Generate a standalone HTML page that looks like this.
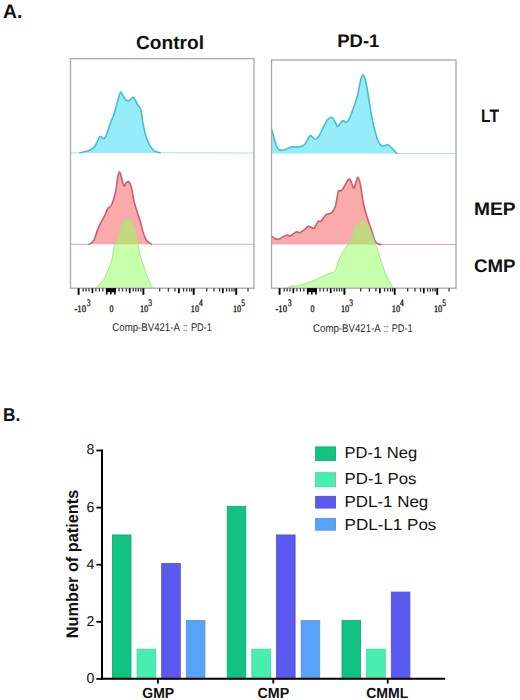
<!DOCTYPE html>
<html><head><meta charset="utf-8"><style>
html,body{margin:0;padding:0;background:#fff;width:520px;height:700px;overflow:hidden;}
svg{display:block;font-family:"Liberation Sans",sans-serif;text-rendering:geometricPrecision;}
</style></head><body><svg width="520" height="700" viewBox="0 0 520 700"><text x="3.0" y="18.2" font-family="Liberation Sans, sans-serif" font-weight="bold" fill="#111" font-size="19.5" textLength="19.3" lengthAdjust="spacingAndGlyphs">A.</text><text x="136.0" y="49.4" font-family="Liberation Sans, sans-serif" font-weight="bold" fill="#111" font-size="18.9" textLength="68" lengthAdjust="spacingAndGlyphs">Control</text><text x="337.2" y="46.7" font-family="Liberation Sans, sans-serif" font-weight="bold" fill="#111" font-size="18.3" textLength="42.2" lengthAdjust="spacingAndGlyphs">PD-1</text><text x="481.0" y="122" font-family="Liberation Sans, sans-serif" font-weight="bold" fill="#111" font-size="18" textLength="18" lengthAdjust="spacingAndGlyphs">LT</text><text x="474.0" y="214.5" font-family="Liberation Sans, sans-serif" font-weight="bold" fill="#111" font-size="18.2" textLength="41.6" lengthAdjust="spacingAndGlyphs">MEP</text><text x="474.0" y="271.9" font-family="Liberation Sans, sans-serif" font-weight="bold" fill="#111" font-size="18.2" textLength="41.5" lengthAdjust="spacingAndGlyphs">CMP</text><text x="3.0" y="420.8" font-family="Liberation Sans, sans-serif" font-weight="bold" fill="#111" font-size="18.5" textLength="17.2" lengthAdjust="spacingAndGlyphs">B.</text><path d="M70.50,153.00 L70.50,153.00 L80.00,152.80 C81.53,152.43 86.77,151.65 89.20,150.60 C91.63,149.55 92.80,148.85 94.60,146.50 C96.40,144.15 98.60,137.78 100.00,136.50 C101.40,135.22 102.00,138.92 103.00,138.80 C104.00,138.68 104.70,138.60 106.00,135.80 C107.30,133.00 109.50,125.47 110.80,122.00 C112.10,118.53 112.77,118.08 113.80,115.00 C114.83,111.92 115.92,107.22 117.00,103.50 C118.08,99.78 119.42,94.25 120.30,92.70 C121.18,91.15 121.45,93.05 122.30,94.20 C123.15,95.35 124.25,98.57 125.40,99.60 C126.55,100.63 127.93,100.78 129.20,100.40 C130.47,100.02 131.97,97.30 133.00,97.30 C134.03,97.30 134.62,99.12 135.40,100.40 C136.18,101.68 136.80,103.47 137.70,105.00 C138.60,106.53 139.92,106.52 140.80,109.60 C141.68,112.68 142.10,118.88 143.00,123.50 C143.90,128.12 145.03,133.58 146.20,137.30 C147.37,141.02 148.73,143.58 150.00,145.80 C151.27,148.02 152.13,149.43 153.80,150.60 C155.47,151.77 158.97,152.43 160.00,152.80 L254.00,153.00 L254.00,153.00 Z" fill="#96ecfa" fill-opacity="1.00" stroke="none"/><line x1="70.50" y1="153.00" x2="80.00" y2="152.80" stroke="#a6e4e8" stroke-width="1.10"/><line x1="160.00" y1="152.80" x2="254.00" y2="153.00" stroke="#a6e4e8" stroke-width="1.10"/><path d="M80.00,152.80 C81.53,152.43 86.77,151.65 89.20,150.60 C91.63,149.55 92.80,148.85 94.60,146.50 C96.40,144.15 98.60,137.78 100.00,136.50 C101.40,135.22 102.00,138.92 103.00,138.80 C104.00,138.68 104.70,138.60 106.00,135.80 C107.30,133.00 109.50,125.47 110.80,122.00 C112.10,118.53 112.77,118.08 113.80,115.00 C114.83,111.92 115.92,107.22 117.00,103.50 C118.08,99.78 119.42,94.25 120.30,92.70 C121.18,91.15 121.45,93.05 122.30,94.20 C123.15,95.35 124.25,98.57 125.40,99.60 C126.55,100.63 127.93,100.78 129.20,100.40 C130.47,100.02 131.97,97.30 133.00,97.30 C134.03,97.30 134.62,99.12 135.40,100.40 C136.18,101.68 136.80,103.47 137.70,105.00 C138.60,106.53 139.92,106.52 140.80,109.60 C141.68,112.68 142.10,118.88 143.00,123.50 C143.90,128.12 145.03,133.58 146.20,137.30 C147.37,141.02 148.73,143.58 150.00,145.80 C151.27,148.02 152.13,149.43 153.80,150.60 C155.47,151.77 158.97,152.43 160.00,152.80" fill="none" stroke="#45bfcc" stroke-width="1.60" stroke-linejoin="round" stroke-linecap="round"/><path d="M70.50,244.30 L70.50,244.30 L89.20,244.30 C89.97,243.65 92.38,242.85 93.80,240.40 C95.22,237.95 96.53,232.55 97.70,229.60 C98.87,226.65 99.65,225.00 100.80,222.70 C101.95,220.40 103.45,218.12 104.60,215.80 C105.75,213.48 106.55,210.60 107.70,208.80 C108.85,207.00 110.22,207.68 111.50,205.00 C112.78,202.32 114.37,197.32 115.40,192.70 C116.43,188.08 117.02,180.77 117.70,177.30 C118.38,173.83 118.92,172.03 119.50,171.90 C120.08,171.77 120.48,174.18 121.20,176.50 C121.92,178.82 122.97,184.77 123.80,185.80 C124.63,186.83 125.35,183.35 126.20,182.70 C127.05,182.05 128.02,181.02 128.90,181.90 C129.78,182.78 130.68,184.92 131.50,188.00 C132.32,191.08 132.90,196.53 133.80,200.40 C134.70,204.27 135.87,207.87 136.90,211.20 C137.93,214.53 138.95,216.85 140.00,220.40 C141.05,223.95 142.12,229.18 143.20,232.50 C144.28,235.82 145.12,238.33 146.50,240.30 C147.88,242.27 150.67,243.63 151.50,244.30 L254.00,244.30 L254.00,244.30 Z" fill="#faaaaa" fill-opacity="1.00" stroke="none"/><line x1="70.50" y1="244.30" x2="89.20" y2="244.30" stroke="#e8a4b0" stroke-width="1.10"/><line x1="151.50" y1="244.30" x2="254.00" y2="244.30" stroke="#e8a4b0" stroke-width="1.10"/><path d="M89.20,244.30 C89.97,243.65 92.38,242.85 93.80,240.40 C95.22,237.95 96.53,232.55 97.70,229.60 C98.87,226.65 99.65,225.00 100.80,222.70 C101.95,220.40 103.45,218.12 104.60,215.80 C105.75,213.48 106.55,210.60 107.70,208.80 C108.85,207.00 110.22,207.68 111.50,205.00 C112.78,202.32 114.37,197.32 115.40,192.70 C116.43,188.08 117.02,180.77 117.70,177.30 C118.38,173.83 118.92,172.03 119.50,171.90 C120.08,171.77 120.48,174.18 121.20,176.50 C121.92,178.82 122.97,184.77 123.80,185.80 C124.63,186.83 125.35,183.35 126.20,182.70 C127.05,182.05 128.02,181.02 128.90,181.90 C129.78,182.78 130.68,184.92 131.50,188.00 C132.32,191.08 132.90,196.53 133.80,200.40 C134.70,204.27 135.87,207.87 136.90,211.20 C137.93,214.53 138.95,216.85 140.00,220.40 C141.05,223.95 142.12,229.18 143.20,232.50 C144.28,235.82 145.12,238.33 146.50,240.30 C147.88,242.27 150.67,243.63 151.50,244.30" fill="none" stroke="#cc5f6e" stroke-width="1.60" stroke-linejoin="round" stroke-linecap="round"/><path d="M95.40,288.20 L95.40,288.20 C96.17,287.50 98.65,285.43 100.00,284.00 C101.35,282.57 102.17,281.87 103.50,279.60 C104.83,277.33 106.67,273.50 108.00,270.40 C109.33,267.30 110.53,264.47 111.50,261.00 C112.47,257.53 113.22,252.47 113.80,249.60 C114.38,246.73 114.22,245.73 115.00,243.80 C115.78,241.87 117.63,239.92 118.50,238.00 C119.37,236.08 119.68,234.38 120.20,232.30 C120.72,230.22 120.97,227.35 121.60,225.50 C122.23,223.65 123.08,222.22 124.00,221.20 C124.92,220.18 126.05,219.40 127.10,219.40 C128.15,219.40 129.32,220.35 130.30,221.20 C131.28,222.05 132.08,222.65 133.00,224.50 C133.92,226.35 134.97,229.08 135.80,232.30 C136.63,235.52 137.23,239.95 138.00,243.80 C138.77,247.65 139.43,251.53 140.40,255.40 C141.37,259.27 142.45,262.97 143.80,267.00 C145.15,271.03 147.13,276.35 148.50,279.60 C149.87,282.85 151.25,285.07 152.00,286.50 C152.75,287.93 152.83,287.92 153.00,288.20 L153.00,288.20 Z" fill="#91ff55" fill-opacity="0.50" stroke="none"/><path d="M95.40,288.20 C96.17,287.50 98.65,285.43 100.00,284.00 C101.35,282.57 102.17,281.87 103.50,279.60 C104.83,277.33 106.67,273.50 108.00,270.40 C109.33,267.30 110.53,264.47 111.50,261.00 C112.47,257.53 113.22,252.47 113.80,249.60 C114.38,246.73 114.22,245.73 115.00,243.80 C115.78,241.87 117.63,239.92 118.50,238.00 C119.37,236.08 119.68,234.38 120.20,232.30 C120.72,230.22 120.97,227.35 121.60,225.50 C122.23,223.65 123.08,222.22 124.00,221.20 C124.92,220.18 126.05,219.40 127.10,219.40 C128.15,219.40 129.32,220.35 130.30,221.20 C131.28,222.05 132.08,222.65 133.00,224.50 C133.92,226.35 134.97,229.08 135.80,232.30 C136.63,235.52 137.23,239.95 138.00,243.80 C138.77,247.65 139.43,251.53 140.40,255.40 C141.37,259.27 142.45,262.97 143.80,267.00 C145.15,271.03 147.13,276.35 148.50,279.60 C149.87,282.85 151.25,285.07 152.00,286.50 C152.75,287.93 152.83,287.92 153.00,288.20" fill="none" stroke="#9ee88a" stroke-width="1.00" stroke-linejoin="round" stroke-linecap="round"/><path d="M271.50,153.50 L271.50,129.20 C271.88,130.50 272.93,134.12 273.80,137.00 C274.67,139.88 275.73,144.33 276.70,146.50 C277.67,148.67 278.15,149.52 279.60,150.00 C281.05,150.48 283.47,149.90 285.40,149.40 C287.33,148.90 288.97,147.40 291.20,147.00 C293.43,146.60 296.57,147.40 298.80,147.00 C301.03,146.60 302.83,146.35 304.60,144.60 C306.37,142.85 308.28,137.93 309.40,136.50 C310.52,135.07 310.33,135.55 311.30,136.00 C312.27,136.45 313.92,139.20 315.20,139.20 C316.48,139.20 317.57,138.15 319.00,136.00 C320.43,133.85 322.35,129.03 323.80,126.30 C325.25,123.57 326.42,121.10 327.70,119.60 C328.98,118.10 330.38,117.13 331.50,117.30 C332.62,117.47 333.43,119.10 334.40,120.60 C335.37,122.10 336.33,125.82 337.30,126.30 C338.27,126.78 339.25,124.45 340.20,123.50 C341.15,122.55 342.03,120.77 343.00,120.60 C343.97,120.43 345.03,122.67 346.00,122.50 C346.97,122.33 347.68,121.68 348.80,119.60 C349.92,117.52 351.25,114.00 352.70,110.00 C354.15,106.00 356.22,100.40 357.50,95.60 C358.78,90.80 359.55,84.63 360.40,81.20 C361.25,77.77 361.78,75.28 362.60,75.00 C363.42,74.72 364.37,76.17 365.30,79.50 C366.23,82.83 367.22,89.28 368.20,95.00 C369.18,100.72 370.07,107.80 371.20,113.80 C372.33,119.80 373.73,126.18 375.00,131.00 C376.27,135.82 377.52,140.17 378.80,142.70 C380.08,145.23 381.25,145.88 382.70,146.20 C384.15,146.52 386.07,144.38 387.50,144.60 C388.93,144.82 389.72,146.02 391.30,147.50 C392.88,148.98 396.05,152.50 397.00,153.50 L456.00,153.50 L456.00,153.50 Z" fill="#96ecfa" fill-opacity="1.00" stroke="none"/><line x1="397.00" y1="153.50" x2="456.00" y2="153.50" stroke="#a6e4e8" stroke-width="1.10"/><path d="M271.50,129.20 C271.88,130.50 272.93,134.12 273.80,137.00 C274.67,139.88 275.73,144.33 276.70,146.50 C277.67,148.67 278.15,149.52 279.60,150.00 C281.05,150.48 283.47,149.90 285.40,149.40 C287.33,148.90 288.97,147.40 291.20,147.00 C293.43,146.60 296.57,147.40 298.80,147.00 C301.03,146.60 302.83,146.35 304.60,144.60 C306.37,142.85 308.28,137.93 309.40,136.50 C310.52,135.07 310.33,135.55 311.30,136.00 C312.27,136.45 313.92,139.20 315.20,139.20 C316.48,139.20 317.57,138.15 319.00,136.00 C320.43,133.85 322.35,129.03 323.80,126.30 C325.25,123.57 326.42,121.10 327.70,119.60 C328.98,118.10 330.38,117.13 331.50,117.30 C332.62,117.47 333.43,119.10 334.40,120.60 C335.37,122.10 336.33,125.82 337.30,126.30 C338.27,126.78 339.25,124.45 340.20,123.50 C341.15,122.55 342.03,120.77 343.00,120.60 C343.97,120.43 345.03,122.67 346.00,122.50 C346.97,122.33 347.68,121.68 348.80,119.60 C349.92,117.52 351.25,114.00 352.70,110.00 C354.15,106.00 356.22,100.40 357.50,95.60 C358.78,90.80 359.55,84.63 360.40,81.20 C361.25,77.77 361.78,75.28 362.60,75.00 C363.42,74.72 364.37,76.17 365.30,79.50 C366.23,82.83 367.22,89.28 368.20,95.00 C369.18,100.72 370.07,107.80 371.20,113.80 C372.33,119.80 373.73,126.18 375.00,131.00 C376.27,135.82 377.52,140.17 378.80,142.70 C380.08,145.23 381.25,145.88 382.70,146.20 C384.15,146.52 386.07,144.38 387.50,144.60 C388.93,144.82 389.72,146.02 391.30,147.50 C392.88,148.98 396.05,152.50 397.00,153.50" fill="none" stroke="#45bfcc" stroke-width="1.60" stroke-linejoin="round" stroke-linecap="round"/><path d="M271.50,244.50 L271.50,236.00 C272.05,236.42 273.60,237.97 274.80,238.50 C276.00,239.03 277.42,239.45 278.70,239.20 C279.98,238.95 281.07,237.70 282.50,237.00 C283.93,236.30 286.02,235.17 287.30,235.00 C288.58,234.83 288.75,236.50 290.20,236.00 C291.65,235.50 294.40,232.55 296.00,232.00 C297.60,231.45 298.52,233.00 299.80,232.70 C301.08,232.40 302.25,231.27 303.70,230.20 C305.15,229.13 307.23,226.78 308.50,226.30 C309.77,225.82 310.35,226.97 311.30,227.30 C312.25,227.63 313.08,229.27 314.20,228.30 C315.32,227.33 316.87,222.68 318.00,221.50 C319.13,220.32 319.70,222.32 321.00,221.20 C322.30,220.08 324.05,216.18 325.80,214.80 C327.55,213.42 329.90,214.33 331.50,212.90 C333.10,211.47 334.27,209.73 335.40,206.20 C336.53,202.67 337.33,194.27 338.30,191.70 C339.27,189.13 340.25,191.58 341.20,190.80 C342.15,190.02 342.73,188.93 344.00,187.00 C345.27,185.07 347.52,179.87 348.80,179.20 C350.08,178.53 350.90,181.45 351.70,183.00 C352.50,184.55 352.92,188.50 353.60,188.50 C354.28,188.50 355.07,184.88 355.80,183.00 C356.53,181.12 357.22,176.87 358.00,177.20 C358.78,177.53 359.58,180.53 360.50,185.00 C361.42,189.47 362.37,198.55 363.50,204.00 C364.63,209.45 366.02,213.50 367.30,217.70 C368.58,221.90 369.92,225.35 371.20,229.20 C372.48,233.05 373.88,238.38 375.00,240.80 C376.12,243.22 376.90,243.08 377.90,243.70 C378.90,244.32 380.48,244.37 381.00,244.50 L456.00,244.50 L456.00,244.50 Z" fill="#faaaaa" fill-opacity="1.00" stroke="none"/><line x1="381.00" y1="244.50" x2="456.00" y2="244.50" stroke="#e8a4b0" stroke-width="1.10"/><path d="M271.50,236.00 C272.05,236.42 273.60,237.97 274.80,238.50 C276.00,239.03 277.42,239.45 278.70,239.20 C279.98,238.95 281.07,237.70 282.50,237.00 C283.93,236.30 286.02,235.17 287.30,235.00 C288.58,234.83 288.75,236.50 290.20,236.00 C291.65,235.50 294.40,232.55 296.00,232.00 C297.60,231.45 298.52,233.00 299.80,232.70 C301.08,232.40 302.25,231.27 303.70,230.20 C305.15,229.13 307.23,226.78 308.50,226.30 C309.77,225.82 310.35,226.97 311.30,227.30 C312.25,227.63 313.08,229.27 314.20,228.30 C315.32,227.33 316.87,222.68 318.00,221.50 C319.13,220.32 319.70,222.32 321.00,221.20 C322.30,220.08 324.05,216.18 325.80,214.80 C327.55,213.42 329.90,214.33 331.50,212.90 C333.10,211.47 334.27,209.73 335.40,206.20 C336.53,202.67 337.33,194.27 338.30,191.70 C339.27,189.13 340.25,191.58 341.20,190.80 C342.15,190.02 342.73,188.93 344.00,187.00 C345.27,185.07 347.52,179.87 348.80,179.20 C350.08,178.53 350.90,181.45 351.70,183.00 C352.50,184.55 352.92,188.50 353.60,188.50 C354.28,188.50 355.07,184.88 355.80,183.00 C356.53,181.12 357.22,176.87 358.00,177.20 C358.78,177.53 359.58,180.53 360.50,185.00 C361.42,189.47 362.37,198.55 363.50,204.00 C364.63,209.45 366.02,213.50 367.30,217.70 C368.58,221.90 369.92,225.35 371.20,229.20 C372.48,233.05 373.88,238.38 375.00,240.80 C376.12,243.22 376.90,243.08 377.90,243.70 C378.90,244.32 380.48,244.37 381.00,244.50" fill="none" stroke="#cc5f6e" stroke-width="1.60" stroke-linejoin="round" stroke-linecap="round"/><path d="M286.50,288.20 L286.50,288.20 C286.92,288.00 288.03,287.40 289.00,287.00 C289.97,286.60 291.23,285.93 292.30,285.80 C293.37,285.67 293.87,286.40 295.40,286.20 C296.93,286.00 299.20,285.25 301.50,284.60 C303.80,283.95 306.62,283.20 309.20,282.30 C311.78,281.40 314.43,280.35 317.00,279.20 C319.57,278.05 322.30,276.43 324.60,275.40 C326.90,274.37 329.13,273.68 330.80,273.00 C332.47,272.32 333.57,272.47 334.60,271.30 C335.63,270.13 336.32,267.88 337.00,266.00 C337.68,264.12 337.95,261.90 338.70,260.00 C339.45,258.10 340.52,256.40 341.50,254.60 C342.48,252.80 343.57,250.87 344.60,249.20 C345.63,247.53 346.67,246.13 347.70,244.60 C348.73,243.07 349.78,242.10 350.80,240.00 C351.82,237.90 352.80,234.58 353.80,232.00 C354.80,229.42 355.85,226.13 356.80,224.50 C357.75,222.87 358.38,222.68 359.50,222.20 C360.62,221.72 362.33,221.53 363.50,221.60 C364.67,221.67 365.65,221.90 366.50,222.60 C367.35,223.30 367.93,224.40 368.60,225.80 C369.27,227.20 369.77,229.02 370.50,231.00 C371.23,232.98 371.92,234.78 373.00,237.70 C374.08,240.62 375.58,244.40 377.00,248.50 C378.42,252.60 380.00,257.95 381.50,262.30 C383.00,266.65 384.45,271.02 386.00,274.60 C387.55,278.18 389.63,281.53 390.80,283.80 C391.97,286.07 392.63,287.47 393.00,288.20 L393.00,288.20 Z" fill="#91ff55" fill-opacity="0.50" stroke="none"/><path d="M286.50,288.20 C286.92,288.00 288.03,287.40 289.00,287.00 C289.97,286.60 291.23,285.93 292.30,285.80 C293.37,285.67 293.87,286.40 295.40,286.20 C296.93,286.00 299.20,285.25 301.50,284.60 C303.80,283.95 306.62,283.20 309.20,282.30 C311.78,281.40 314.43,280.35 317.00,279.20 C319.57,278.05 322.30,276.43 324.60,275.40 C326.90,274.37 329.13,273.68 330.80,273.00 C332.47,272.32 333.57,272.47 334.60,271.30 C335.63,270.13 336.32,267.88 337.00,266.00 C337.68,264.12 337.95,261.90 338.70,260.00 C339.45,258.10 340.52,256.40 341.50,254.60 C342.48,252.80 343.57,250.87 344.60,249.20 C345.63,247.53 346.67,246.13 347.70,244.60 C348.73,243.07 349.78,242.10 350.80,240.00 C351.82,237.90 352.80,234.58 353.80,232.00 C354.80,229.42 355.85,226.13 356.80,224.50 C357.75,222.87 358.38,222.68 359.50,222.20 C360.62,221.72 362.33,221.53 363.50,221.60 C364.67,221.67 365.65,221.90 366.50,222.60 C367.35,223.30 367.93,224.40 368.60,225.80 C369.27,227.20 369.77,229.02 370.50,231.00 C371.23,232.98 371.92,234.78 373.00,237.70 C374.08,240.62 375.58,244.40 377.00,248.50 C378.42,252.60 380.00,257.95 381.50,262.30 C383.00,266.65 384.45,271.02 386.00,274.60 C387.55,278.18 389.63,281.53 390.80,283.80 C391.97,286.07 392.63,287.47 393.00,288.20" fill="none" stroke="#9ee88a" stroke-width="1.00" stroke-linejoin="round" stroke-linecap="round"/><rect x="70.50" y="58.60" width="183.50" height="229.60" fill="none" stroke="#a8a8a8" stroke-width="1.3"/><rect x="271.50" y="60.00" width="184.50" height="228.20" fill="none" stroke="#a8a8a8" stroke-width="1.3"/><rect x="106.00" y="288.20" width="10" height="4" fill="#000"/><line x1="78.60" y1="288.20" x2="78.60" y2="294.80" stroke="#000" stroke-width="1.90"/><line x1="143.40" y1="288.20" x2="143.40" y2="294.80" stroke="#000" stroke-width="1.90"/><line x1="193.70" y1="288.20" x2="193.70" y2="294.80" stroke="#000" stroke-width="1.90"/><line x1="236.20" y1="288.20" x2="236.20" y2="294.80" stroke="#000" stroke-width="1.90"/><line x1="92.40" y1="288.20" x2="92.40" y2="293.20" stroke="#000" stroke-width="1.70"/><line x1="129.70" y1="288.20" x2="129.70" y2="293.20" stroke="#000" stroke-width="1.70"/><line x1="178.90" y1="288.20" x2="178.90" y2="293.20" stroke="#000" stroke-width="1.70"/><line x1="222.80" y1="288.20" x2="222.80" y2="293.20" stroke="#000" stroke-width="1.70"/><line x1="83.20" y1="288.20" x2="83.20" y2="291.60" stroke="#333" stroke-width="1.30"/><line x1="86.10" y1="288.20" x2="86.10" y2="291.60" stroke="#333" stroke-width="1.30"/><line x1="89.00" y1="288.20" x2="89.00" y2="291.60" stroke="#333" stroke-width="1.30"/><line x1="95.90" y1="288.20" x2="95.90" y2="291.60" stroke="#333" stroke-width="1.30"/><line x1="99.40" y1="288.20" x2="99.40" y2="291.60" stroke="#333" stroke-width="1.30"/><line x1="102.80" y1="288.20" x2="102.80" y2="291.60" stroke="#333" stroke-width="1.30"/><line x1="119.00" y1="288.20" x2="119.00" y2="291.60" stroke="#333" stroke-width="1.30"/><line x1="122.50" y1="288.20" x2="122.50" y2="291.60" stroke="#333" stroke-width="1.30"/><line x1="126.30" y1="288.20" x2="126.30" y2="291.60" stroke="#333" stroke-width="1.30"/><line x1="133.20" y1="288.20" x2="133.20" y2="291.60" stroke="#333" stroke-width="1.30"/><line x1="135.80" y1="288.20" x2="135.80" y2="291.60" stroke="#333" stroke-width="1.30"/><line x1="138.40" y1="288.20" x2="138.40" y2="291.60" stroke="#333" stroke-width="1.30"/><line x1="140.80" y1="288.20" x2="140.80" y2="291.60" stroke="#333" stroke-width="1.30"/><line x1="159.70" y1="288.20" x2="159.70" y2="291.60" stroke="#333" stroke-width="1.30"/><line x1="168.40" y1="288.20" x2="168.40" y2="291.60" stroke="#333" stroke-width="1.30"/><line x1="174.90" y1="288.20" x2="174.90" y2="291.60" stroke="#333" stroke-width="1.30"/><line x1="183.60" y1="288.20" x2="183.60" y2="291.60" stroke="#333" stroke-width="1.30"/><line x1="186.70" y1="288.20" x2="186.70" y2="291.60" stroke="#333" stroke-width="1.30"/><line x1="189.60" y1="288.20" x2="189.60" y2="291.60" stroke="#333" stroke-width="1.30"/><line x1="191.70" y1="288.20" x2="191.70" y2="291.60" stroke="#333" stroke-width="1.30"/><line x1="206.70" y1="288.20" x2="206.70" y2="291.60" stroke="#333" stroke-width="1.30"/><line x1="214.00" y1="288.20" x2="214.00" y2="291.60" stroke="#333" stroke-width="1.30"/><line x1="219.60" y1="288.20" x2="219.60" y2="291.60" stroke="#333" stroke-width="1.30"/><line x1="226.60" y1="288.20" x2="226.60" y2="291.60" stroke="#333" stroke-width="1.30"/><line x1="229.40" y1="288.20" x2="229.40" y2="291.60" stroke="#333" stroke-width="1.30"/><line x1="231.90" y1="288.20" x2="231.90" y2="291.60" stroke="#333" stroke-width="1.30"/><line x1="234.10" y1="288.20" x2="234.10" y2="291.60" stroke="#333" stroke-width="1.30"/><line x1="248.00" y1="288.20" x2="248.00" y2="291.60" stroke="#333" stroke-width="1.30"/><line x1="106.70" y1="288.20" x2="106.70" y2="294.50" stroke="#000" stroke-width="1.60"/><line x1="110.80" y1="288.20" x2="110.80" y2="294.50" stroke="#000" stroke-width="1.60"/><line x1="114.90" y1="288.20" x2="114.90" y2="294.50" stroke="#000" stroke-width="1.60"/><rect x="307.00" y="288.20" width="10" height="4" fill="#000"/><line x1="279.60" y1="288.20" x2="279.60" y2="294.80" stroke="#000" stroke-width="1.90"/><line x1="344.40" y1="288.20" x2="344.40" y2="294.80" stroke="#000" stroke-width="1.90"/><line x1="394.70" y1="288.20" x2="394.70" y2="294.80" stroke="#000" stroke-width="1.90"/><line x1="437.20" y1="288.20" x2="437.20" y2="294.80" stroke="#000" stroke-width="1.90"/><line x1="293.40" y1="288.20" x2="293.40" y2="293.20" stroke="#000" stroke-width="1.70"/><line x1="330.70" y1="288.20" x2="330.70" y2="293.20" stroke="#000" stroke-width="1.70"/><line x1="379.90" y1="288.20" x2="379.90" y2="293.20" stroke="#000" stroke-width="1.70"/><line x1="423.80" y1="288.20" x2="423.80" y2="293.20" stroke="#000" stroke-width="1.70"/><line x1="284.20" y1="288.20" x2="284.20" y2="291.60" stroke="#333" stroke-width="1.30"/><line x1="287.10" y1="288.20" x2="287.10" y2="291.60" stroke="#333" stroke-width="1.30"/><line x1="290.00" y1="288.20" x2="290.00" y2="291.60" stroke="#333" stroke-width="1.30"/><line x1="296.90" y1="288.20" x2="296.90" y2="291.60" stroke="#333" stroke-width="1.30"/><line x1="300.40" y1="288.20" x2="300.40" y2="291.60" stroke="#333" stroke-width="1.30"/><line x1="303.80" y1="288.20" x2="303.80" y2="291.60" stroke="#333" stroke-width="1.30"/><line x1="320.00" y1="288.20" x2="320.00" y2="291.60" stroke="#333" stroke-width="1.30"/><line x1="323.50" y1="288.20" x2="323.50" y2="291.60" stroke="#333" stroke-width="1.30"/><line x1="327.30" y1="288.20" x2="327.30" y2="291.60" stroke="#333" stroke-width="1.30"/><line x1="334.20" y1="288.20" x2="334.20" y2="291.60" stroke="#333" stroke-width="1.30"/><line x1="336.80" y1="288.20" x2="336.80" y2="291.60" stroke="#333" stroke-width="1.30"/><line x1="339.40" y1="288.20" x2="339.40" y2="291.60" stroke="#333" stroke-width="1.30"/><line x1="341.80" y1="288.20" x2="341.80" y2="291.60" stroke="#333" stroke-width="1.30"/><line x1="360.70" y1="288.20" x2="360.70" y2="291.60" stroke="#333" stroke-width="1.30"/><line x1="369.40" y1="288.20" x2="369.40" y2="291.60" stroke="#333" stroke-width="1.30"/><line x1="375.90" y1="288.20" x2="375.90" y2="291.60" stroke="#333" stroke-width="1.30"/><line x1="384.60" y1="288.20" x2="384.60" y2="291.60" stroke="#333" stroke-width="1.30"/><line x1="387.70" y1="288.20" x2="387.70" y2="291.60" stroke="#333" stroke-width="1.30"/><line x1="390.60" y1="288.20" x2="390.60" y2="291.60" stroke="#333" stroke-width="1.30"/><line x1="392.70" y1="288.20" x2="392.70" y2="291.60" stroke="#333" stroke-width="1.30"/><line x1="407.70" y1="288.20" x2="407.70" y2="291.60" stroke="#333" stroke-width="1.30"/><line x1="415.00" y1="288.20" x2="415.00" y2="291.60" stroke="#333" stroke-width="1.30"/><line x1="420.60" y1="288.20" x2="420.60" y2="291.60" stroke="#333" stroke-width="1.30"/><line x1="427.60" y1="288.20" x2="427.60" y2="291.60" stroke="#333" stroke-width="1.30"/><line x1="430.40" y1="288.20" x2="430.40" y2="291.60" stroke="#333" stroke-width="1.30"/><line x1="432.90" y1="288.20" x2="432.90" y2="291.60" stroke="#333" stroke-width="1.30"/><line x1="435.10" y1="288.20" x2="435.10" y2="291.60" stroke="#333" stroke-width="1.30"/><line x1="449.00" y1="288.20" x2="449.00" y2="291.60" stroke="#333" stroke-width="1.30"/><line x1="307.70" y1="288.20" x2="307.70" y2="294.50" stroke="#000" stroke-width="1.60"/><line x1="311.80" y1="288.20" x2="311.80" y2="294.50" stroke="#000" stroke-width="1.60"/><line x1="315.90" y1="288.20" x2="315.90" y2="294.50" stroke="#000" stroke-width="1.60"/><text x="74.40" y="312.20" font-family="Liberation Serif, serif" fill="#1a1a1a" stroke="#1a1a1a" stroke-width="0.35" font-size="10" textLength="11.6" lengthAdjust="spacingAndGlyphs">-10</text><text x="86.90" y="305.80" font-family="Liberation Serif, serif" fill="#1a1a1a" stroke="#1a1a1a" stroke-width="0.35" font-size="9.8" textLength="3.6" lengthAdjust="spacingAndGlyphs">3</text><text x="109.60" y="312.20" font-family="Liberation Serif, serif" fill="#1a1a1a" stroke="#1a1a1a" stroke-width="0.35" font-size="10" textLength="4" lengthAdjust="spacingAndGlyphs">0</text><text x="140.00" y="312.20" font-family="Liberation Serif, serif" fill="#1a1a1a" stroke="#1a1a1a" stroke-width="0.35" font-size="10" textLength="8.2" lengthAdjust="spacingAndGlyphs">10</text><text x="148.30" y="305.80" font-family="Liberation Serif, serif" fill="#1a1a1a" stroke="#1a1a1a" stroke-width="0.35" font-size="9.8" textLength="3.8" lengthAdjust="spacingAndGlyphs">3</text><text x="190.80" y="312.20" font-family="Liberation Serif, serif" fill="#1a1a1a" stroke="#1a1a1a" stroke-width="0.35" font-size="10" textLength="8.2" lengthAdjust="spacingAndGlyphs">10</text><text x="199.10" y="305.80" font-family="Liberation Serif, serif" fill="#1a1a1a" stroke="#1a1a1a" stroke-width="0.35" font-size="9.8" textLength="3.8" lengthAdjust="spacingAndGlyphs">4</text><text x="233.00" y="312.20" font-family="Liberation Serif, serif" fill="#1a1a1a" stroke="#1a1a1a" stroke-width="0.35" font-size="10" textLength="8.2" lengthAdjust="spacingAndGlyphs">10</text><text x="241.30" y="305.80" font-family="Liberation Serif, serif" fill="#1a1a1a" stroke="#1a1a1a" stroke-width="0.35" font-size="9.8" textLength="3.8" lengthAdjust="spacingAndGlyphs">5</text><text x="275.40" y="312.20" font-family="Liberation Serif, serif" fill="#1a1a1a" stroke="#1a1a1a" stroke-width="0.35" font-size="10" textLength="11.6" lengthAdjust="spacingAndGlyphs">-10</text><text x="287.90" y="305.80" font-family="Liberation Serif, serif" fill="#1a1a1a" stroke="#1a1a1a" stroke-width="0.35" font-size="9.8" textLength="3.6" lengthAdjust="spacingAndGlyphs">3</text><text x="310.60" y="312.20" font-family="Liberation Serif, serif" fill="#1a1a1a" stroke="#1a1a1a" stroke-width="0.35" font-size="10" textLength="4" lengthAdjust="spacingAndGlyphs">0</text><text x="341.00" y="312.20" font-family="Liberation Serif, serif" fill="#1a1a1a" stroke="#1a1a1a" stroke-width="0.35" font-size="10" textLength="8.2" lengthAdjust="spacingAndGlyphs">10</text><text x="349.30" y="305.80" font-family="Liberation Serif, serif" fill="#1a1a1a" stroke="#1a1a1a" stroke-width="0.35" font-size="9.8" textLength="3.8" lengthAdjust="spacingAndGlyphs">3</text><text x="391.80" y="312.20" font-family="Liberation Serif, serif" fill="#1a1a1a" stroke="#1a1a1a" stroke-width="0.35" font-size="10" textLength="8.2" lengthAdjust="spacingAndGlyphs">10</text><text x="400.10" y="305.80" font-family="Liberation Serif, serif" fill="#1a1a1a" stroke="#1a1a1a" stroke-width="0.35" font-size="9.8" textLength="3.8" lengthAdjust="spacingAndGlyphs">4</text><text x="434.00" y="312.20" font-family="Liberation Serif, serif" fill="#1a1a1a" stroke="#1a1a1a" stroke-width="0.35" font-size="10" textLength="8.2" lengthAdjust="spacingAndGlyphs">10</text><text x="442.30" y="305.80" font-family="Liberation Serif, serif" fill="#1a1a1a" stroke="#1a1a1a" stroke-width="0.35" font-size="9.8" textLength="3.8" lengthAdjust="spacingAndGlyphs">5</text><text x="112.30" y="330.50" font-family="Liberation Sans, sans-serif" fill="#2a2a2a" font-size="11.2" textLength="67.6" lengthAdjust="spacingAndGlyphs">Comp-BV421-A</text><text x="182.90" y="330.50" font-family="Liberation Sans, sans-serif" fill="#2a2a2a" font-size="11.2" textLength="4.6" lengthAdjust="spacingAndGlyphs">::</text><text x="190.90" y="330.50" font-family="Liberation Sans, sans-serif" fill="#2a2a2a" font-size="11.2" textLength="21" lengthAdjust="spacingAndGlyphs">PD-1</text><text x="313.10" y="331.50" font-family="Liberation Sans, sans-serif" fill="#2a2a2a" font-size="11.2" textLength="67.6" lengthAdjust="spacingAndGlyphs">Comp-BV421-A</text><text x="383.70" y="331.50" font-family="Liberation Sans, sans-serif" fill="#2a2a2a" font-size="11.2" textLength="4.6" lengthAdjust="spacingAndGlyphs">::</text><text x="391.70" y="331.50" font-family="Liberation Sans, sans-serif" fill="#2a2a2a" font-size="11.2" textLength="21" lengthAdjust="spacingAndGlyphs">PD-1</text><rect x="112.40" y="534.95" width="18.6" height="143.95" fill="#12c283" stroke="#0ea873" stroke-width="0.8"/><rect x="137.05" y="649.15" width="18.6" height="29.75" fill="#48eeb0" stroke="#3ed8a0" stroke-width="0.8"/><rect x="161.70" y="563.50" width="18.6" height="115.40" fill="#5a5af0" stroke="#4d4ed8" stroke-width="0.8"/><rect x="186.35" y="620.60" width="18.6" height="58.30" fill="#58a2f7" stroke="#4d93e0" stroke-width="0.8"/><rect x="227.20" y="506.40" width="18.6" height="172.50" fill="#12c283" stroke="#0ea873" stroke-width="0.8"/><rect x="251.85" y="649.15" width="18.6" height="29.75" fill="#48eeb0" stroke="#3ed8a0" stroke-width="0.8"/><rect x="276.50" y="534.95" width="18.6" height="143.95" fill="#5a5af0" stroke="#4d4ed8" stroke-width="0.8"/><rect x="301.15" y="620.60" width="18.6" height="58.30" fill="#58a2f7" stroke="#4d93e0" stroke-width="0.8"/><rect x="342.00" y="620.60" width="18.6" height="58.30" fill="#12c283" stroke="#0ea873" stroke-width="0.8"/><rect x="366.65" y="649.15" width="18.6" height="29.75" fill="#48eeb0" stroke="#3ed8a0" stroke-width="0.8"/><rect x="391.30" y="592.05" width="18.6" height="86.85" fill="#5a5af0" stroke="#4d4ed8" stroke-width="0.8"/><line x1="102" y1="449.6" x2="102" y2="679.8" stroke="#000" stroke-width="2"/><line x1="101" y1="678.8" x2="445.2" y2="678.8" stroke="#000" stroke-width="2"/><line x1="96.4" y1="678.90" x2="102" y2="678.90" stroke="#000" stroke-width="1.8"/><text x="94.4" y="682.80" font-family="Liberation Sans, sans-serif" fill="#111" font-size="14.2" text-anchor="end">0</text><line x1="96.4" y1="621.80" x2="102" y2="621.80" stroke="#000" stroke-width="1.8"/><text x="94.4" y="625.70" font-family="Liberation Sans, sans-serif" fill="#111" font-size="14.2" text-anchor="end">2</text><line x1="96.4" y1="564.70" x2="102" y2="564.70" stroke="#000" stroke-width="1.8"/><text x="94.4" y="568.60" font-family="Liberation Sans, sans-serif" fill="#111" font-size="14.2" text-anchor="end">4</text><line x1="96.4" y1="507.60" x2="102" y2="507.60" stroke="#000" stroke-width="1.8"/><text x="94.4" y="511.50" font-family="Liberation Sans, sans-serif" fill="#111" font-size="14.2" text-anchor="end">6</text><line x1="96.4" y1="450.50" x2="102" y2="450.50" stroke="#000" stroke-width="1.8"/><text x="94.4" y="454.40" font-family="Liberation Sans, sans-serif" fill="#111" font-size="14.2" text-anchor="end">8</text><line x1="157.90" y1="678.8" x2="157.90" y2="683.5" stroke="#000" stroke-width="1.8"/><line x1="273.30" y1="678.8" x2="273.30" y2="683.5" stroke="#000" stroke-width="1.8"/><line x1="387.70" y1="678.8" x2="387.70" y2="683.5" stroke="#000" stroke-width="1.8"/><text x="142.3" y="697.9" font-family="Liberation Sans, sans-serif" font-weight="bold" fill="#111" font-size="14.6" textLength="31.8" lengthAdjust="spacingAndGlyphs">GMP</text><text x="257.5" y="697.9" font-family="Liberation Sans, sans-serif" font-weight="bold" fill="#111" font-size="14.6" textLength="31.8" lengthAdjust="spacingAndGlyphs">CMP</text><text x="366.2" y="697.9" font-family="Liberation Sans, sans-serif" font-weight="bold" fill="#111" font-size="14.6" textLength="42.2" lengthAdjust="spacingAndGlyphs">CMML</text><text transform="translate(78.2,638.2) rotate(-90)" x="0" y="0" font-family="Liberation Sans, sans-serif" font-weight="bold" fill="#111" font-size="16.8" textLength="148.5" lengthAdjust="spacingAndGlyphs">Number of patients</text><rect x="315.6" y="446.90" width="20.0" height="13.70" fill="#12c283" stroke="#0ea873" stroke-width="0.8"/><text x="344.6" y="457.80" font-family="Liberation Sans, sans-serif" fill="#111" font-size="15.9" textLength="72.6" lengthAdjust="spacingAndGlyphs">PD-1 Neg</text><rect x="315.6" y="472.70" width="20.0" height="14.10" fill="#48eeb0" stroke="#3ed8a0" stroke-width="0.8"/><text x="344.6" y="484.00" font-family="Liberation Sans, sans-serif" fill="#111" font-size="15.9" textLength="71.8" lengthAdjust="spacingAndGlyphs">PD-1 Pos</text><rect x="315.6" y="496.30" width="20.0" height="11.80" fill="#5a5af0" stroke="#4d4ed8" stroke-width="0.8"/><text x="344.6" y="507.20" font-family="Liberation Sans, sans-serif" fill="#111" font-size="15.9" textLength="83.6" lengthAdjust="spacingAndGlyphs">PDL-1 Neg</text><rect x="315.6" y="518.40" width="20.0" height="11.80" fill="#58a2f7" stroke="#4d93e0" stroke-width="0.8"/><text x="344.6" y="529.60" font-family="Liberation Sans, sans-serif" fill="#111" font-size="15.9" textLength="91.8" lengthAdjust="spacingAndGlyphs">PDL-L1 Pos</text></svg></body></html>
